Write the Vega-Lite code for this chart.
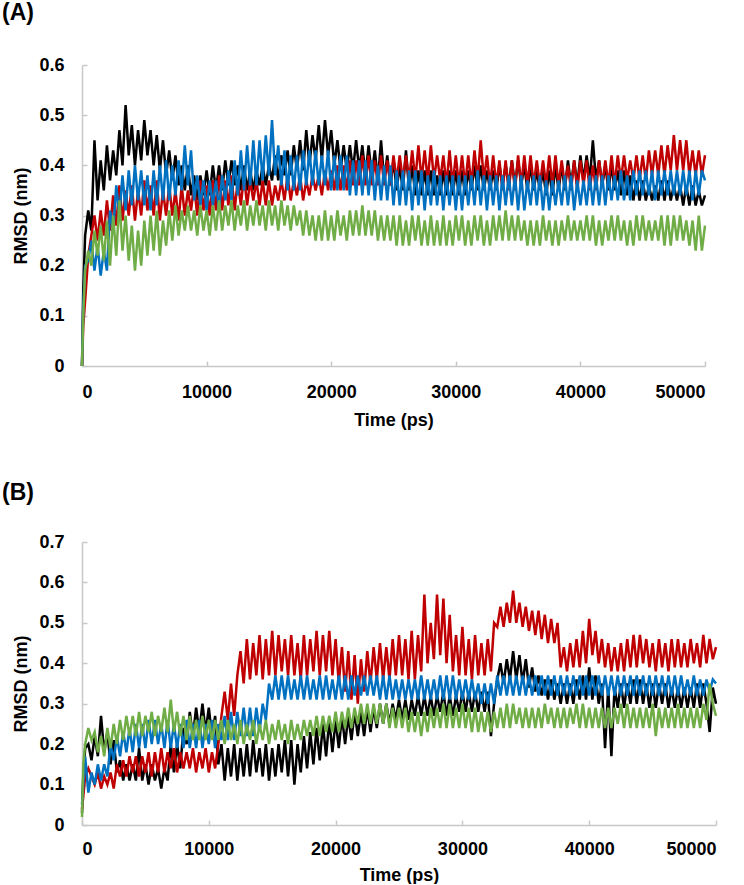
{
  "$schema": "https://vega.github.io/schema/vega-lite/v6.json",
  "background": "white",
  "padding": {"left": 2, "top": 2, "right": 2, "bottom": 0},
  "spacing": 53,
  "config": {
    "view": {"stroke": null},
    "font": "Liberation Sans",
    "axis": {
      "grid": false,
      "domainColor": "#c8c8c8",
      "domainWidth": 1.5,
      "tickColor": "#c8c8c8",
      "tickWidth": 1.5,
      "tickSize": -5,
      "labelFont": "Liberation Sans",
      "labelFontSize": 18,
      "labelFontWeight": "bold",
      "labelColor": "#000000",
      "titleFont": "Liberation Sans",
      "titleFontSize": 18,
      "titleFontWeight": "bold",
      "titleColor": "#000000"
    },
    "axisY": {"labelPadding": 23, "titlePadding": 8},
    "title": {"font": "Liberation Sans", "fontSize": 23, "fontWeight": "bold", "color": "#000000", "anchor": "start", "frame": "group"}
  },
  "datasets": {
    "A": [
{"t":0,"k":0,"r":0,"b":0,"g":0},
{"t":100,"k":0.15,"r":0.08,"b":0.12,"g":0.1},
{"t":250,"k":0.26,"r":0.13,"b":0.2,"g":0.19},
{"t":500,"k":0.31,"r":0.22,"b":0.21,"g":0.23},
{"t":750,"k":0.27,"r":0.26,"b":0.25,"g":0.2},
{"t":1000,"k":0.45,"r":0.3,"b":0.19,"g":0.27},
{"t":1250,"k":0.33,"r":0.25,"b":0.24,"g":0.22},
{"t":1500,"k":0.41,"r":0.31,"b":0.18,"g":0.28},
{"t":1750,"k":0.35,"r":0.26,"b":0.23,"g":0.21},
{"t":2000,"k":0.44,"r":0.33,"b":0.19,"g":0.29},
{"t":2250,"k":0.37,"r":0.27,"b":0.31,"g":0.2},
{"t":2500,"k":0.43,"r":0.34,"b":0.27,"g":0.3},
{"t":2750,"k":0.38,"r":0.28,"b":0.36,"g":0.22},
{"t":3000,"k":0.47,"r":0.36,"b":0.3,"g":0.33},
{"t":3250,"k":0.4,"r":0.29,"b":0.38,"g":0.23},
{"t":3500,"k":0.52,"r":0.35,"b":0.31,"g":0.3},
{"t":3750,"k":0.42,"r":0.3,"b":0.39,"g":0.21},
{"t":4000,"k":0.48,"r":0.36,"b":0.32,"g":0.28},
{"t":4250,"k":0.4,"r":0.29,"b":0.4,"g":0.19},
{"t":4500,"k":0.47,"r":0.35,"b":0.33,"g":0.27},
{"t":4750,"k":0.41,"r":0.3,"b":0.39,"g":0.2},
{"t":5000,"k":0.49,"r":0.37,"b":0.32,"g":0.29},
{"t":5250,"k":0.42,"r":0.31,"b":0.38,"g":0.22},
{"t":5500,"k":0.47,"r":0.36,"b":0.31,"g":0.3},
{"t":5750,"k":0.4,"r":0.3,"b":0.39,"g":0.23},
{"t":6000,"k":0.46,"r":0.37,"b":0.32,"g":0.31},
{"t":6250,"k":0.39,"r":0.29,"b":0.4,"g":0.22},
{"t":6500,"k":0.45,"r":0.35,"b":0.33,"g":0.29},
{"t":6750,"k":0.38,"r":0.3,"b":0.41,"g":0.24},
{"t":7000,"k":0.43,"r":0.36,"b":0.33,"g":0.31},
{"t":7250,"k":0.37,"r":0.3,"b":0.4,"g":0.25},
{"t":7500,"k":0.42,"r":0.35,"b":0.34,"g":0.32},
{"t":7750,"k":0.36,"r":0.29,"b":0.41,"g":0.26},
{"t":8000,"k":0.4,"r":0.36,"b":0.35,"g":0.31},
{"t":8250,"k":0.35,"r":0.3,"b":0.44,"g":0.27},
{"t":8500,"k":0.4,"r":0.35,"b":0.36,"g":0.32},
{"t":8750,"k":0.34,"r":0.31,"b":0.43,"g":0.27},
{"t":9000,"k":0.38,"r":0.36,"b":0.33,"g":0.31},
{"t":9250,"k":0.33,"r":0.3,"b":0.38,"g":0.26},
{"t":9500,"k":0.38,"r":0.37,"b":0.32,"g":0.32},
{"t":9750,"k":0.34,"r":0.31,"b":0.37,"g":0.27},
{"t":10000,"k":0.39,"r":0.36,"b":0.31,"g":0.31},
{"t":10250,"k":0.34,"r":0.3,"b":0.37,"g":0.26},
{"t":10500,"k":0.4,"r":0.37,"b":0.32,"g":0.32},
{"t":10750,"k":0.35,"r":0.31,"b":0.37,"g":0.27},
{"t":11000,"k":0.4,"r":0.38,"b":0.31,"g":0.33},
{"t":11250,"k":0.35,"r":0.31,"b":0.38,"g":0.27},
{"t":11500,"k":0.41,"r":0.37,"b":0.33,"g":0.32},
{"t":11750,"k":0.36,"r":0.32,"b":0.39,"g":0.28},
{"t":12000,"k":0.41,"r":0.38,"b":0.33,"g":0.33},
{"t":12250,"k":0.36,"r":0.31,"b":0.41,"g":0.27},
{"t":12500,"k":0.4,"r":0.37,"b":0.34,"g":0.32},
{"t":12750,"k":0.35,"r":0.32,"b":0.43,"g":0.28},
{"t":13000,"k":0.4,"r":0.38,"b":0.35,"g":0.33},
{"t":13250,"k":0.35,"r":0.32,"b":0.44,"g":0.27},
{"t":13500,"k":0.39,"r":0.37,"b":0.36,"g":0.32},
{"t":13750,"k":0.35,"r":0.33,"b":0.45,"g":0.28},
{"t":14000,"k":0.39,"r":0.37,"b":0.36,"g":0.33},
{"t":14250,"k":0.36,"r":0.32,"b":0.45,"g":0.28},
{"t":14500,"k":0.4,"r":0.37,"b":0.37,"g":0.32},
{"t":14750,"k":0.36,"r":0.32,"b":0.46,"g":0.27},
{"t":15000,"k":0.4,"r":0.37,"b":0.38,"g":0.33},
{"t":15250,"k":0.37,"r":0.32,"b":0.49,"g":0.28},
{"t":15500,"k":0.42,"r":0.36,"b":0.38,"g":0.32},
{"t":15750,"k":0.37,"r":0.33,"b":0.44,"g":0.27},
{"t":16000,"k":0.42,"r":0.37,"b":0.36,"g":0.33},
{"t":16250,"k":0.38,"r":0.33,"b":0.43,"g":0.28},
{"t":16500,"k":0.43,"r":0.38,"b":0.35,"g":0.32},
{"t":16750,"k":0.38,"r":0.33,"b":0.42,"g":0.27},
{"t":17000,"k":0.44,"r":0.37,"b":0.35,"g":0.32},
{"t":17250,"k":0.39,"r":0.34,"b":0.42,"g":0.28},
{"t":17500,"k":0.45,"r":0.38,"b":0.35,"g":0.31},
{"t":17750,"k":0.39,"r":0.33,"b":0.43,"g":0.26},
{"t":18000,"k":0.47,"r":0.37,"b":0.36,"g":0.31},
{"t":18250,"k":0.4,"r":0.34,"b":0.43,"g":0.26},
{"t":18500,"k":0.46,"r":0.38,"b":0.36,"g":0.3},
{"t":18750,"k":0.41,"r":0.35,"b":0.43,"g":0.25},
{"t":19000,"k":0.48,"r":0.38,"b":0.36,"g":0.3},
{"t":19250,"k":0.41,"r":0.34,"b":0.42,"g":0.25},
{"t":19500,"k":0.49,"r":0.39,"b":0.36,"g":0.31},
{"t":19750,"k":0.42,"r":0.35,"b":0.43,"g":0.25},
{"t":20000,"k":0.47,"r":0.39,"b":0.35,"g":0.3},
{"t":20250,"k":0.4,"r":0.35,"b":0.42,"g":0.25},
{"t":20500,"k":0.45,"r":0.4,"b":0.35,"g":0.31},
{"t":20750,"k":0.39,"r":0.35,"b":0.42,"g":0.26},
{"t":21000,"k":0.44,"r":0.4,"b":0.35,"g":0.3},
{"t":21250,"k":0.39,"r":0.35,"b":0.42,"g":0.25},
{"t":21500,"k":0.44,"r":0.41,"b":0.34,"g":0.31},
{"t":21750,"k":0.39,"r":0.36,"b":0.41,"g":0.26},
{"t":22000,"k":0.45,"r":0.41,"b":0.34,"g":0.31},
{"t":22250,"k":0.39,"r":0.36,"b":0.41,"g":0.26},
{"t":22500,"k":0.44,"r":0.42,"b":0.34,"g":0.32},
{"t":22750,"k":0.38,"r":0.36,"b":0.41,"g":0.26},
{"t":23000,"k":0.44,"r":0.42,"b":0.34,"g":0.31},
{"t":23250,"k":0.38,"r":0.36,"b":0.41,"g":0.26},
{"t":23500,"k":0.43,"r":0.41,"b":0.33,"g":0.31},
{"t":23750,"k":0.37,"r":0.36,"b":0.4,"g":0.25},
{"t":24000,"k":0.45,"r":0.42,"b":0.33,"g":0.3},
{"t":24250,"k":0.37,"r":0.36,"b":0.4,"g":0.25},
{"t":24500,"k":0.42,"r":0.41,"b":0.33,"g":0.3},
{"t":24750,"k":0.36,"r":0.36,"b":0.4,"g":0.25},
{"t":25000,"k":0.41,"r":0.42,"b":0.32,"g":0.3},
{"t":25250,"k":0.35,"r":0.37,"b":0.39,"g":0.24},
{"t":25500,"k":0.4,"r":0.42,"b":0.32,"g":0.3},
{"t":25750,"k":0.35,"r":0.37,"b":0.39,"g":0.24},
{"t":26000,"k":0.43,"r":0.42,"b":0.32,"g":0.29},
{"t":26250,"k":0.35,"r":0.37,"b":0.39,"g":0.24},
{"t":26500,"k":0.4,"r":0.43,"b":0.31,"g":0.3},
{"t":26750,"k":0.34,"r":0.37,"b":0.39,"g":0.25},
{"t":27000,"k":0.39,"r":0.44,"b":0.32,"g":0.3},
{"t":27250,"k":0.34,"r":0.37,"b":0.39,"g":0.24},
{"t":27500,"k":0.39,"r":0.43,"b":0.31,"g":0.29},
{"t":27750,"k":0.34,"r":0.37,"b":0.38,"g":0.24},
{"t":28000,"k":0.39,"r":0.44,"b":0.32,"g":0.3},
{"t":28250,"k":0.34,"r":0.37,"b":0.39,"g":0.24},
{"t":28500,"k":0.38,"r":0.42,"b":0.32,"g":0.29},
{"t":28750,"k":0.34,"r":0.37,"b":0.38,"g":0.24},
{"t":29000,"k":0.39,"r":0.42,"b":0.31,"g":0.3},
{"t":29250,"k":0.34,"r":0.36,"b":0.38,"g":0.24},
{"t":29500,"k":0.39,"r":0.43,"b":0.32,"g":0.29},
{"t":29750,"k":0.34,"r":0.36,"b":0.38,"g":0.24},
{"t":30000,"k":0.39,"r":0.42,"b":0.31,"g":0.3},
{"t":30250,"k":0.34,"r":0.36,"b":0.38,"g":0.25},
{"t":30500,"k":0.39,"r":0.42,"b":0.31,"g":0.3},
{"t":30750,"k":0.34,"r":0.36,"b":0.38,"g":0.24},
{"t":31000,"k":0.39,"r":0.42,"b":0.32,"g":0.29},
{"t":31250,"k":0.35,"r":0.36,"b":0.38,"g":0.24},
{"t":31500,"k":0.4,"r":0.43,"b":0.32,"g":0.3},
{"t":31750,"k":0.35,"r":0.37,"b":0.39,"g":0.25},
{"t":32000,"k":0.4,"r":0.45,"b":0.32,"g":0.3},
{"t":32250,"k":0.35,"r":0.37,"b":0.38,"g":0.24},
{"t":32500,"k":0.39,"r":0.42,"b":0.31,"g":0.29},
{"t":32750,"k":0.35,"r":0.36,"b":0.38,"g":0.24},
{"t":33000,"k":0.39,"r":0.42,"b":0.32,"g":0.3},
{"t":33250,"k":0.35,"r":0.36,"b":0.38,"g":0.25},
{"t":33500,"k":0.4,"r":0.41,"b":0.31,"g":0.3},
{"t":33750,"k":0.36,"r":0.35,"b":0.38,"g":0.25},
{"t":34000,"k":0.4,"r":0.41,"b":0.32,"g":0.31},
{"t":34250,"k":0.36,"r":0.35,"b":0.38,"g":0.25},
{"t":34500,"k":0.41,"r":0.41,"b":0.32,"g":0.3},
{"t":34750,"k":0.36,"r":0.35,"b":0.38,"g":0.25},
{"t":35000,"k":0.41,"r":0.42,"b":0.31,"g":0.3},
{"t":35250,"k":0.36,"r":0.36,"b":0.38,"g":0.25},
{"t":35500,"k":0.4,"r":0.42,"b":0.31,"g":0.29},
{"t":35750,"k":0.35,"r":0.36,"b":0.37,"g":0.24},
{"t":36000,"k":0.4,"r":0.42,"b":0.32,"g":0.29},
{"t":36250,"k":0.35,"r":0.36,"b":0.38,"g":0.24},
{"t":36500,"k":0.39,"r":0.41,"b":0.32,"g":0.29},
{"t":36750,"k":0.35,"r":0.36,"b":0.38,"g":0.24},
{"t":37000,"k":0.39,"r":0.41,"b":0.31,"g":0.3},
{"t":37250,"k":0.34,"r":0.36,"b":0.37,"g":0.25},
{"t":37500,"k":0.39,"r":0.42,"b":0.31,"g":0.29},
{"t":37750,"k":0.34,"r":0.36,"b":0.37,"g":0.24},
{"t":38000,"k":0.4,"r":0.42,"b":0.32,"g":0.29},
{"t":38250,"k":0.35,"r":0.36,"b":0.37,"g":0.24},
{"t":38500,"k":0.4,"r":0.41,"b":0.32,"g":0.29},
{"t":38750,"k":0.35,"r":0.36,"b":0.38,"g":0.25},
{"t":39000,"k":0.41,"r":0.4,"b":0.32,"g":0.3},
{"t":39250,"k":0.36,"r":0.35,"b":0.38,"g":0.25},
{"t":39500,"k":0.41,"r":0.41,"b":0.31,"g":0.29},
{"t":39750,"k":0.36,"r":0.35,"b":0.37,"g":0.25},
{"t":40000,"k":0.42,"r":0.41,"b":0.32,"g":0.29},
{"t":40250,"k":0.37,"r":0.36,"b":0.37,"g":0.25},
{"t":40500,"k":0.42,"r":0.41,"b":0.32,"g":0.3},
{"t":40750,"k":0.37,"r":0.35,"b":0.38,"g":0.25},
{"t":41000,"k":0.45,"r":0.4,"b":0.32,"g":0.3},
{"t":41250,"k":0.37,"r":0.35,"b":0.38,"g":0.24},
{"t":41500,"k":0.41,"r":0.41,"b":0.32,"g":0.29},
{"t":41750,"k":0.36,"r":0.36,"b":0.38,"g":0.24},
{"t":42000,"k":0.4,"r":0.41,"b":0.32,"g":0.29},
{"t":42250,"k":0.35,"r":0.36,"b":0.38,"g":0.25},
{"t":42500,"k":0.4,"r":0.42,"b":0.33,"g":0.3},
{"t":42750,"k":0.35,"r":0.36,"b":0.38,"g":0.25},
{"t":43000,"k":0.39,"r":0.42,"b":0.33,"g":0.3},
{"t":43250,"k":0.34,"r":0.37,"b":0.39,"g":0.25},
{"t":43500,"k":0.39,"r":0.42,"b":0.33,"g":0.29},
{"t":43750,"k":0.34,"r":0.37,"b":0.38,"g":0.24},
{"t":44000,"k":0.38,"r":0.41,"b":0.33,"g":0.29},
{"t":44250,"k":0.33,"r":0.37,"b":0.39,"g":0.24},
{"t":44500,"k":0.37,"r":0.42,"b":0.34,"g":0.3},
{"t":44750,"k":0.33,"r":0.37,"b":0.39,"g":0.25},
{"t":45000,"k":0.37,"r":0.42,"b":0.34,"g":0.3},
{"t":45250,"k":0.33,"r":0.37,"b":0.39,"g":0.25},
{"t":45500,"k":0.36,"r":0.43,"b":0.34,"g":0.29},
{"t":45750,"k":0.33,"r":0.38,"b":0.39,"g":0.25},
{"t":46000,"k":0.36,"r":0.43,"b":0.33,"g":0.29},
{"t":46250,"k":0.33,"r":0.38,"b":0.39,"g":0.25},
{"t":46500,"k":0.37,"r":0.44,"b":0.34,"g":0.3},
{"t":46750,"k":0.33,"r":0.38,"b":0.39,"g":0.24},
{"t":47000,"k":0.37,"r":0.44,"b":0.34,"g":0.3},
{"t":47250,"k":0.33,"r":0.39,"b":0.39,"g":0.24},
{"t":47500,"k":0.36,"r":0.46,"b":0.34,"g":0.3},
{"t":47750,"k":0.33,"r":0.39,"b":0.39,"g":0.25},
{"t":48000,"k":0.36,"r":0.45,"b":0.34,"g":0.3},
{"t":48250,"k":0.32,"r":0.39,"b":0.39,"g":0.25},
{"t":48500,"k":0.36,"r":0.45,"b":0.34,"g":0.29},
{"t":48750,"k":0.32,"r":0.38,"b":0.39,"g":0.24},
{"t":49000,"k":0.36,"r":0.43,"b":0.33,"g":0.29},
{"t":49250,"k":0.32,"r":0.38,"b":0.39,"g":0.23},
{"t":49500,"k":0.35,"r":0.43,"b":0.34,"g":0.3},
{"t":49750,"k":0.32,"r":0.38,"b":0.39,"g":0.23},
{"t":50000,"k":0.34,"r":0.42,"b":0.37,"g":0.28}
    ],
    "B": [
{"t":0,"k":0.03,"r":0.04,"b":0.05,"g":0.02},
{"t":100,"k":0.12,"r":0.07,"b":0.1,"g":0.15},
{"t":250,"k":0.19,"r":0.12,"b":0.17,"g":0.2},
{"t":500,"k":0.2,"r":0.14,"b":0.08,"g":0.24},
{"t":750,"k":0.16,"r":0.12,"b":0.13,"g":0.21},
{"t":1000,"k":0.22,"r":0.1,"b":0.1,"g":0.23},
{"t":1250,"k":0.17,"r":0.13,"b":0.15,"g":0.18},
{"t":1500,"k":0.27,"r":0.09,"b":0.11,"g":0.22},
{"t":1750,"k":0.18,"r":0.12,"b":0.15,"g":0.17},
{"t":2000,"k":0.23,"r":0.1,"b":0.12,"g":0.24},
{"t":2250,"k":0.15,"r":0.13,"b":0.2,"g":0.19},
{"t":2500,"k":0.21,"r":0.09,"b":0.16,"g":0.25},
{"t":2750,"k":0.13,"r":0.15,"b":0.22,"g":0.2},
{"t":3000,"k":0.16,"r":0.12,"b":0.17,"g":0.26},
{"t":3250,"k":0.11,"r":0.16,"b":0.23,"g":0.21},
{"t":3500,"k":0.15,"r":0.12,"b":0.18,"g":0.27},
{"t":3750,"k":0.11,"r":0.17,"b":0.24,"g":0.22},
{"t":4000,"k":0.15,"r":0.13,"b":0.18,"g":0.27},
{"t":4250,"k":0.11,"r":0.17,"b":0.25,"g":0.22},
{"t":4500,"k":0.19,"r":0.12,"b":0.19,"g":0.28},
{"t":4750,"k":0.11,"r":0.17,"b":0.25,"g":0.22},
{"t":5000,"k":0.15,"r":0.13,"b":0.19,"g":0.27},
{"t":5250,"k":0.1,"r":0.18,"b":0.26,"g":0.23},
{"t":5500,"k":0.15,"r":0.12,"b":0.2,"g":0.28},
{"t":5750,"k":0.11,"r":0.18,"b":0.26,"g":0.22},
{"t":6000,"k":0.14,"r":0.13,"b":0.2,"g":0.27},
{"t":6250,"k":0.09,"r":0.19,"b":0.25,"g":0.23},
{"t":6500,"k":0.14,"r":0.13,"b":0.19,"g":0.29},
{"t":6750,"k":0.11,"r":0.18,"b":0.26,"g":0.23},
{"t":7000,"k":0.2,"r":0.14,"b":0.19,"g":0.31},
{"t":7250,"k":0.13,"r":0.19,"b":0.25,"g":0.23},
{"t":7500,"k":0.2,"r":0.13,"b":0.19,"g":0.28},
{"t":7750,"k":0.14,"r":0.18,"b":0.25,"g":0.22},
{"t":8000,"k":0.24,"r":0.14,"b":0.19,"g":0.27},
{"t":8250,"k":0.2,"r":0.18,"b":0.26,"g":0.21},
{"t":8500,"k":0.28,"r":0.14,"b":0.19,"g":0.27},
{"t":8750,"k":0.22,"r":0.19,"b":0.25,"g":0.21},
{"t":9000,"k":0.29,"r":0.13,"b":0.19,"g":0.26},
{"t":9250,"k":0.23,"r":0.18,"b":0.26,"g":0.21},
{"t":9500,"k":0.3,"r":0.14,"b":0.19,"g":0.27},
{"t":9750,"k":0.23,"r":0.19,"b":0.25,"g":0.21},
{"t":10000,"k":0.29,"r":0.13,"b":0.2,"g":0.26},
{"t":10250,"k":0.22,"r":0.18,"b":0.26,"g":0.21},
{"t":10500,"k":0.27,"r":0.14,"b":0.19,"g":0.26},
{"t":10750,"k":0.15,"r":0.2,"b":0.25,"g":0.21},
{"t":11000,"k":0.2,"r":0.27,"b":0.21,"g":0.26},
{"t":11250,"k":0.11,"r":0.33,"b":0.27,"g":0.2},
{"t":11500,"k":0.19,"r":0.26,"b":0.21,"g":0.26},
{"t":11750,"k":0.12,"r":0.35,"b":0.28,"g":0.21},
{"t":12000,"k":0.2,"r":0.27,"b":0.21,"g":0.25},
{"t":12250,"k":0.11,"r":0.37,"b":0.28,"g":0.2},
{"t":12500,"k":0.19,"r":0.43,"b":0.22,"g":0.26},
{"t":12750,"k":0.12,"r":0.35,"b":0.29,"g":0.2},
{"t":13000,"k":0.2,"r":0.46,"b":0.22,"g":0.25},
{"t":13250,"k":0.12,"r":0.36,"b":0.29,"g":0.21},
{"t":13500,"k":0.21,"r":0.45,"b":0.22,"g":0.26},
{"t":13750,"k":0.13,"r":0.37,"b":0.29,"g":0.2},
{"t":14000,"k":0.19,"r":0.47,"b":0.23,"g":0.25},
{"t":14250,"k":0.12,"r":0.36,"b":0.3,"g":0.21},
{"t":14500,"k":0.2,"r":0.46,"b":0.26,"g":0.26},
{"t":14750,"k":0.11,"r":0.37,"b":0.35,"g":0.2},
{"t":15000,"k":0.19,"r":0.48,"b":0.31,"g":0.25},
{"t":15250,"k":0.12,"r":0.37,"b":0.37,"g":0.21},
{"t":15500,"k":0.2,"r":0.47,"b":0.31,"g":0.26},
{"t":15750,"k":0.13,"r":0.38,"b":0.37,"g":0.21},
{"t":16000,"k":0.21,"r":0.46,"b":0.31,"g":0.25},
{"t":16250,"k":0.12,"r":0.37,"b":0.37,"g":0.2},
{"t":16500,"k":0.21,"r":0.47,"b":0.31,"g":0.26},
{"t":16750,"k":0.1,"r":0.37,"b":0.36,"g":0.21},
{"t":17000,"k":0.2,"r":0.45,"b":0.31,"g":0.25},
{"t":17250,"k":0.13,"r":0.36,"b":0.37,"g":0.21},
{"t":17500,"k":0.22,"r":0.47,"b":0.31,"g":0.26},
{"t":17750,"k":0.14,"r":0.37,"b":0.37,"g":0.22},
{"t":18000,"k":0.23,"r":0.46,"b":0.31,"g":0.26},
{"t":18250,"k":0.15,"r":0.38,"b":0.36,"g":0.22},
{"t":18500,"k":0.24,"r":0.48,"b":0.31,"g":0.27},
{"t":18750,"k":0.16,"r":0.37,"b":0.37,"g":0.22},
{"t":19000,"k":0.25,"r":0.47,"b":0.31,"g":0.27},
{"t":19250,"k":0.17,"r":0.38,"b":0.37,"g":0.23},
{"t":19500,"k":0.26,"r":0.48,"b":0.31,"g":0.27},
{"t":19750,"k":0.18,"r":0.37,"b":0.36,"g":0.23},
{"t":20000,"k":0.26,"r":0.46,"b":0.31,"g":0.28},
{"t":20250,"k":0.19,"r":0.35,"b":0.37,"g":0.23},
{"t":20500,"k":0.27,"r":0.44,"b":0.31,"g":0.28},
{"t":20750,"k":0.2,"r":0.33,"b":0.37,"g":0.24},
{"t":21000,"k":0.27,"r":0.43,"b":0.31,"g":0.29},
{"t":21250,"k":0.21,"r":0.31,"b":0.37,"g":0.24},
{"t":21500,"k":0.28,"r":0.42,"b":0.32,"g":0.29},
{"t":21750,"k":0.22,"r":0.3,"b":0.37,"g":0.25},
{"t":22000,"k":0.28,"r":0.41,"b":0.32,"g":0.3},
{"t":22250,"k":0.22,"r":0.33,"b":0.37,"g":0.25},
{"t":22500,"k":0.29,"r":0.43,"b":0.32,"g":0.3},
{"t":22750,"k":0.23,"r":0.35,"b":0.37,"g":0.25},
{"t":23000,"k":0.29,"r":0.44,"b":0.32,"g":0.3},
{"t":23250,"k":0.24,"r":0.36,"b":0.37,"g":0.25},
{"t":23500,"k":0.3,"r":0.45,"b":0.31,"g":0.3},
{"t":23750,"k":0.25,"r":0.36,"b":0.37,"g":0.25},
{"t":24000,"k":0.3,"r":0.44,"b":0.31,"g":0.3},
{"t":24250,"k":0.25,"r":0.36,"b":0.37,"g":0.24},
{"t":24500,"k":0.3,"r":0.46,"b":0.31,"g":0.29},
{"t":24750,"k":0.26,"r":0.37,"b":0.36,"g":0.24},
{"t":25000,"k":0.31,"r":0.47,"b":0.31,"g":0.29},
{"t":25250,"k":0.26,"r":0.37,"b":0.36,"g":0.24},
{"t":25500,"k":0.31,"r":0.46,"b":0.31,"g":0.29},
{"t":25750,"k":0.26,"r":0.36,"b":0.36,"g":0.23},
{"t":26000,"k":0.31,"r":0.48,"b":0.31,"g":0.28},
{"t":26250,"k":0.27,"r":0.36,"b":0.36,"g":0.23},
{"t":26500,"k":0.32,"r":0.47,"b":0.31,"g":0.28},
{"t":26750,"k":0.27,"r":0.38,"b":0.37,"g":0.22},
{"t":27000,"k":0.32,"r":0.57,"b":0.31,"g":0.28},
{"t":27250,"k":0.27,"r":0.4,"b":0.36,"g":0.23},
{"t":27500,"k":0.32,"r":0.5,"b":0.31,"g":0.29},
{"t":27750,"k":0.27,"r":0.41,"b":0.36,"g":0.24},
{"t":28000,"k":0.32,"r":0.57,"b":0.31,"g":0.29},
{"t":28250,"k":0.28,"r":0.42,"b":0.37,"g":0.24},
{"t":28500,"k":0.33,"r":0.56,"b":0.31,"g":0.3},
{"t":28750,"k":0.27,"r":0.4,"b":0.37,"g":0.24},
{"t":29000,"k":0.32,"r":0.52,"b":0.31,"g":0.3},
{"t":29250,"k":0.27,"r":0.38,"b":0.37,"g":0.24},
{"t":29500,"k":0.32,"r":0.47,"b":0.31,"g":0.29},
{"t":29750,"k":0.28,"r":0.37,"b":0.36,"g":0.24},
{"t":30000,"k":0.33,"r":0.49,"b":0.31,"g":0.3},
{"t":30250,"k":0.28,"r":0.37,"b":0.36,"g":0.24},
{"t":30500,"k":0.33,"r":0.46,"b":0.31,"g":0.29},
{"t":30750,"k":0.28,"r":0.36,"b":0.36,"g":0.23},
{"t":31000,"k":0.33,"r":0.47,"b":0.31,"g":0.29},
{"t":31250,"k":0.28,"r":0.37,"b":0.35,"g":0.23},
{"t":31500,"k":0.33,"r":0.45,"b":0.3,"g":0.28},
{"t":31750,"k":0.28,"r":0.37,"b":0.35,"g":0.23},
{"t":32000,"k":0.33,"r":0.46,"b":0.3,"g":0.28},
{"t":32250,"k":0.22,"r":0.38,"b":0.35,"g":0.23},
{"t":32500,"k":0.3,"r":0.5,"b":0.3,"g":0.28},
{"t":32750,"k":0.36,"r":0.49,"b":0.37,"g":0.24},
{"t":33000,"k":0.4,"r":0.54,"b":0.32,"g":0.29},
{"t":33250,"k":0.35,"r":0.49,"b":0.37,"g":0.24},
{"t":33500,"k":0.41,"r":0.55,"b":0.32,"g":0.3},
{"t":33750,"k":0.36,"r":0.5,"b":0.37,"g":0.24},
{"t":34000,"k":0.43,"r":0.58,"b":0.32,"g":0.3},
{"t":34250,"k":0.36,"r":0.5,"b":0.37,"g":0.25},
{"t":34500,"k":0.42,"r":0.55,"b":0.32,"g":0.29},
{"t":34750,"k":0.35,"r":0.49,"b":0.37,"g":0.24},
{"t":35000,"k":0.41,"r":0.54,"b":0.32,"g":0.29},
{"t":35250,"k":0.34,"r":0.48,"b":0.37,"g":0.24},
{"t":35500,"k":0.39,"r":0.53,"b":0.32,"g":0.29},
{"t":35750,"k":0.33,"r":0.47,"b":0.37,"g":0.24},
{"t":36000,"k":0.37,"r":0.53,"b":0.32,"g":0.29},
{"t":36250,"k":0.32,"r":0.46,"b":0.37,"g":0.24},
{"t":36500,"k":0.36,"r":0.52,"b":0.32,"g":0.3},
{"t":36750,"k":0.31,"r":0.45,"b":0.37,"g":0.25},
{"t":37000,"k":0.36,"r":0.51,"b":0.32,"g":0.29},
{"t":37250,"k":0.31,"r":0.45,"b":0.37,"g":0.24},
{"t":37500,"k":0.35,"r":0.5,"b":0.32,"g":0.29},
{"t":37750,"k":0.3,"r":0.39,"b":0.37,"g":0.24},
{"t":38000,"k":0.35,"r":0.44,"b":0.32,"g":0.29},
{"t":38250,"k":0.3,"r":0.38,"b":0.37,"g":0.24},
{"t":38500,"k":0.35,"r":0.45,"b":0.32,"g":0.29},
{"t":38750,"k":0.3,"r":0.39,"b":0.37,"g":0.25},
{"t":39000,"k":0.36,"r":0.46,"b":0.32,"g":0.3},
{"t":39250,"k":0.31,"r":0.39,"b":0.37,"g":0.24},
{"t":39500,"k":0.37,"r":0.48,"b":0.32,"g":0.3},
{"t":39750,"k":0.31,"r":0.4,"b":0.37,"g":0.24},
{"t":40000,"k":0.39,"r":0.51,"b":0.32,"g":0.29},
{"t":40250,"k":0.31,"r":0.42,"b":0.37,"g":0.24},
{"t":40500,"k":0.37,"r":0.48,"b":0.32,"g":0.29},
{"t":40750,"k":0.3,"r":0.4,"b":0.37,"g":0.24},
{"t":41000,"k":0.35,"r":0.46,"b":0.32,"g":0.29},
{"t":41250,"k":0.19,"r":0.39,"b":0.37,"g":0.24},
{"t":41500,"k":0.34,"r":0.45,"b":0.32,"g":0.29},
{"t":41750,"k":0.17,"r":0.38,"b":0.37,"g":0.24},
{"t":42000,"k":0.34,"r":0.44,"b":0.32,"g":0.29},
{"t":42250,"k":0.29,"r":0.38,"b":0.37,"g":0.25},
{"t":42500,"k":0.35,"r":0.45,"b":0.32,"g":0.3},
{"t":42750,"k":0.29,"r":0.38,"b":0.37,"g":0.24},
{"t":43000,"k":0.35,"r":0.46,"b":0.32,"g":0.3},
{"t":43250,"k":0.3,"r":0.39,"b":0.37,"g":0.24},
{"t":43500,"k":0.36,"r":0.47,"b":0.32,"g":0.29},
{"t":43750,"k":0.3,"r":0.39,"b":0.37,"g":0.24},
{"t":44000,"k":0.36,"r":0.47,"b":0.32,"g":0.29},
{"t":44250,"k":0.3,"r":0.4,"b":0.37,"g":0.24},
{"t":44500,"k":0.35,"r":0.46,"b":0.32,"g":0.29},
{"t":44750,"k":0.29,"r":0.39,"b":0.37,"g":0.24},
{"t":45000,"k":0.35,"r":0.45,"b":0.32,"g":0.3},
{"t":45250,"k":0.29,"r":0.38,"b":0.37,"g":0.22},
{"t":45500,"k":0.35,"r":0.46,"b":0.32,"g":0.29},
{"t":45750,"k":0.3,"r":0.39,"b":0.37,"g":0.24},
{"t":46000,"k":0.35,"r":0.45,"b":0.32,"g":0.29},
{"t":46250,"k":0.29,"r":0.38,"b":0.37,"g":0.24},
{"t":46500,"k":0.34,"r":0.46,"b":0.32,"g":0.29},
{"t":46750,"k":0.29,"r":0.39,"b":0.37,"g":0.24},
{"t":47000,"k":0.34,"r":0.46,"b":0.32,"g":0.3},
{"t":47250,"k":0.29,"r":0.39,"b":0.37,"g":0.24},
{"t":47500,"k":0.34,"r":0.45,"b":0.32,"g":0.29},
{"t":47750,"k":0.29,"r":0.39,"b":0.36,"g":0.24},
{"t":48000,"k":0.34,"r":0.46,"b":0.32,"g":0.29},
{"t":48250,"k":0.29,"r":0.4,"b":0.37,"g":0.24},
{"t":48500,"k":0.35,"r":0.45,"b":0.32,"g":0.29},
{"t":48750,"k":0.29,"r":0.39,"b":0.36,"g":0.24},
{"t":49000,"k":0.35,"r":0.47,"b":0.32,"g":0.3},
{"t":49250,"k":0.3,"r":0.4,"b":0.36,"g":0.26},
{"t":49500,"k":0.23,"r":0.46,"b":0.33,"g":0.35},
{"t":49750,"k":0.34,"r":0.41,"b":0.36,"g":0.3},
{"t":50000,"k":0.3,"r":0.44,"b":0.35,"g":0.27}
    ]
  },
  "vconcat": [
    {
      "title": {"text": "(A)", "dx": -80, "offset": 31},
      "width": 623,
      "height": 301,
      "data": {"name": "A"},
      "transform": [{"fold": ["k", "r", "b", "g"], "as": ["s", "v"]}],
      "mark": {"type": "line", "strokeWidth": 2.5},
      "encoding": {
        "x": {"field": "t", "type": "quantitative", "scale": {"domain": [0, 50000], "nice": false}, "axis": {"title": "Time (ps)", "values": [0, 10000, 20000, 30000, 40000, 50000], "format": "d", "labelPadding": 22, "titlePadding": 10}},
        "y": {"field": "v", "type": "quantitative", "scale": {"domain": [0, 0.6], "nice": false}, "axis": {"title": "RMSD (nm)", "values": [0, 0.1, 0.2, 0.3, 0.4, 0.5, 0.6], "format": "~g"}},
        "color": {"field": "s", "type": "nominal", "scale": {"domain": ["k", "r", "b", "g"], "range": ["#000000", "#C00000", "#0070C0", "#70AD47"]}, "legend": null}
      }
    },
    {
      "title": {"text": "(B)", "dx": -80, "offset": 28},
      "width": 634,
      "height": 283,
      "data": {"name": "B"},
      "transform": [{"fold": ["k", "r", "b", "g"], "as": ["s", "v"]}],
      "mark": {"type": "line", "strokeWidth": 2.5},
      "encoding": {
        "x": {"field": "t", "type": "quantitative", "scale": {"domain": [0, 50000], "nice": false}, "axis": {"title": "Time (ps)", "values": [0, 10000, 20000, 30000, 40000, 50000], "format": "d", "labelPadding": 20, "titlePadding": 8}},
        "y": {"field": "v", "type": "quantitative", "scale": {"domain": [0, 0.7], "nice": false}, "axis": {"title": "RMSD (nm)", "values": [0, 0.1, 0.2, 0.3, 0.4, 0.5, 0.6, 0.7], "format": "~g"}},
        "color": {"field": "s", "type": "nominal", "scale": {"domain": ["k", "r", "b", "g"], "range": ["#000000", "#C00000", "#0070C0", "#70AD47"]}, "legend": null}
      }
    }
  ]
}
